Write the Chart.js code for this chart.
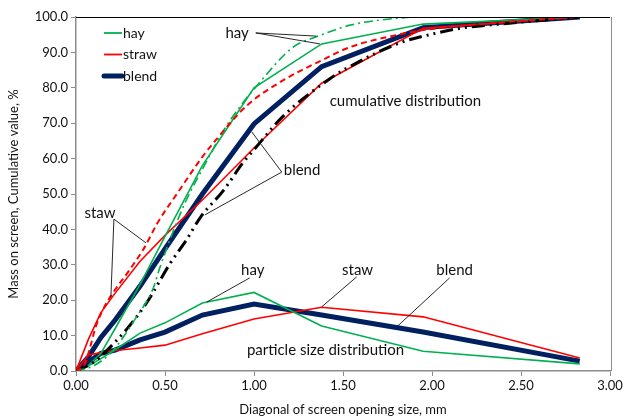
<!DOCTYPE html>
<html><head><meta charset="utf-8">
<script src="https://cdn.jsdelivr.net/npm/chart.js@4.4.1/dist/chart.umd.min.js"></script>
<style>html,body{margin:0;padding:0;background:#fff}#wrap{width:627px;height:418px}</style>
</head><body><div id="wrap"><canvas id="c" width="627" height="418"></canvas></div>
<script>
// Sieve sizes (diagonal of screen opening, mm)
const xSieve = [0, 0.07, 0.14, 0.22, 0.36, 0.5, 0.71, 1.0, 1.38, 1.95, 2.83];
// Cumulative distributions, %
const hayCum   = [0, 1.5, 5, 12, 24.5, 38, 58, 80, 92.4, 98, 100];
const strawCum = [0, 9, 16.5, 22, 31, 38.3, 48.3, 63, 81.3, 96.8, 100];
const blendCum = [0, 4, 9.5, 14.4, 24, 34.5, 50, 69.8, 86, 97, 100];
// Particle size distributions, % mass on screen
const hayPsd   = [0, 1.5, 3.5, 6, 10.7, 13.6, 19.2, 22.2, 12.7, 5.6, 2];
const strawPsd = [0, 4.5, 5.2, 5.8, 6.5, 7.3, 10.5, 14.7, 18, 15.3, 3.7];
const blendPsd = [0, 2.5, 5, 5.9, 8.8, 11, 15.8, 18.9, 15.8, 11, 2.8];
// Fitted (model) cumulative curves
const hayModelX = [0, 0.1, 0.21, 0.34, 0.43, 0.47, 0.55, 0.62, 0.71, 0.83, 0.92, 1.02, 1.22, 1.35, 1.54, 1.72, 1.95, 2.83];
const hayModelY = [0, 1.5, 5.9, 15.3, 22.9, 29, 40, 48.3, 57, 68, 74.6, 80.8, 91.5, 94.4, 97.7, 99.2, 100, 100];
const strawModelX = [0, 0.05, 0.08, 0.11, 0.15, 0.2, 0.3, 0.38, 0.46, 0.58, 0.71, 0.79, 0.96, 1.16, 1.39, 1.54, 1.8, 1.95, 2.4, 2.83];
const strawModelY = [0, 2, 6.8, 12.4, 17.2, 21.5, 28.5, 34.5, 42, 51, 60.5, 65.5, 75, 82, 88, 91.5, 94.9, 96.3, 98.5, 100];
const blendModelX = [0, 0.1, 0.22, 0.29, 0.4, 0.53, 0.62, 0.7, 0.83, 0.94, 0.99, 1.16, 1.43, 1.52, 1.82, 2.03, 2.17, 2.38, 2.83];
const blendModelY = [0, 2.5, 8.2, 12.1, 19.5, 30.5, 37, 43.5, 51.1, 59, 61.9, 71.8, 82.7, 85.5, 92.7, 95.5, 96.9, 98, 100];
// Legend entries and annotation labels
const legendLabels = ['hay', 'straw', 'blend'];
const annotations = [
  {text: 'hay', x: 0.905, y: 95.5, align: 'center', lines: [[1.01, 95.5, 1.35, 94.6], [1.01, 95.5, 1.37, 92.4]]},
  {text: 'cumulative distribution', x: 1.425, y: 76.3, align: 'left', lines: []},
  {text: 'blend', x: 1.167, y: 56.8, align: 'left', lines: [[1.156, 56.2, 0.988, 67.5], [1.156, 56.2, 0.724, 44.1]]},
  {text: 'staw', x: 0.135, y: 44.6, align: 'center', lines: [[0.213, 42.9, 0.393, 36.2], [0.213, 42.9, 0.196, 20.9]]},
  {text: 'hay', x: 0.993, y: 28.5, align: 'center', lines: [[0.976, 26.3, 0.735, 19.5]]},
  {text: 'staw', x: 1.582, y: 28.5, align: 'center', lines: [[1.577, 26.6, 1.38, 18.1]]},
  {text: 'blend', x: 2.127, y: 28.5, align: 'center', lines: [[2.099, 26.3, 1.807, 12.7]]},
  {text: 'particle size distribution', x: 0.96, y: 5.9, align: 'left', lines: []}
];

const GREEN = '#00B050', RED = '#FF0000', NAVY = '#002060';
const pts = (xs, ys) => xs.map((x, i) => ({x: x, y: ys[i]}));
const FONT = 'Lato, "Noto Sans", sans-serif';

function ds(data, color, width, dash, smooth) {
  return {data: data, borderColor: color, backgroundColor: color, borderWidth: width,
    borderDash: dash || [], showLine: true, pointRadius: 0, pointHoverRadius: 0,
    tension: 0, cubicInterpolationMode: smooth ? 'monotone' : 'default', fill: false};
}

const datasets = [
  ds(pts(strawModelX, strawModelY), RED, 2, [6, 4], true),
  ds(pts(hayModelX, hayModelY), GREEN, 1.6, [9, 4, 2, 4], true),
  ds(pts(blendModelX, blendModelY), '#000', 3, [13, 5, 2, 5, 2, 5], true),
  ds(pts(xSieve, hayCum), GREEN, 1.6),
  ds(pts(xSieve, strawCum), RED, 1.6),
  ds(pts(xSieve, hayPsd), GREEN, 1.6),
  ds(pts(xSieve, strawPsd), RED, 1.6),
  ds(pts(xSieve, blendCum), NAVY, 5),
  ds(pts(xSieve, blendPsd), NAVY, 5)
];

const overlay = {
  id: 'overlay',
  afterDraw(chart) {
    const ctx = chart.ctx, xs = chart.scales.x, ys = chart.scales.y, a = chart.chartArea;
    ctx.save();
    ctx.lineWidth = 1;
    ctx.strokeStyle = '#000';
    ctx.beginPath(); ctx.moveTo(a.left, a.top + 0.5); ctx.lineTo(a.right, a.top + 0.5); ctx.stroke();
    ctx.strokeStyle = '#8c8c8c';
    ctx.beginPath(); ctx.moveTo(a.right + 1.5, a.top); ctx.lineTo(a.right + 1.5, a.bottom); ctx.stroke();
    ctx.font = '15px ' + FONT;
    ctx.fillStyle = '#111';
    ctx.textBaseline = 'middle';
    ctx.strokeStyle = '#111';
    ctx.lineWidth = 0.9;
    annotations.forEach(an => {
      ctx.textAlign = an.align;
      ctx.fillText(an.text, xs.getPixelForValue(an.x), ys.getPixelForValue(an.y));
      an.lines.forEach(l => {
        ctx.beginPath();
        ctx.moveTo(xs.getPixelForValue(l[0]), ys.getPixelForValue(l[1]));
        ctx.lineTo(xs.getPixelForValue(l[2]), ys.getPixelForValue(l[3]));
        ctx.stroke();
      });
    });
    const colors = [GREEN, RED, NAVY], widths = [1.8, 1.8, 5];
    ctx.textAlign = 'left';
    ctx.font = '14px ' + FONT;
    legendLabels.forEach((lab, i) => {
      const y = a.top + 16 + i * 21.5;
      ctx.strokeStyle = colors[i]; ctx.lineWidth = widths[i];
      ctx.lineCap = i === 2 ? 'round' : 'butt';
      ctx.beginPath(); ctx.moveTo(a.left + 28, y); ctx.lineTo(a.left + 46, y); ctx.stroke();
      ctx.fillStyle = '#111';
      ctx.fillText(lab, a.left + 47, y);
    });
    ctx.restore();
  }
};

new Chart(document.getElementById('c'), {
  type: 'scatter',
  data: {datasets: datasets},
  options: {
    responsive: false, animation: false, devicePixelRatio: 1,
    layout: {padding: {top: 17, right: 17, left: 0, bottom: 0}},
    plugins: {legend: {display: false}, tooltip: {enabled: false}},
    scales: {
      x: {type: 'linear', min: 0, max: 3,
        afterFit: s => { s.height = 47; },
        ticks: {stepSize: 0.5, callback: v => v.toFixed(2), color: '#111', font: {family: FONT, size: 13}, padding: 2, maxRotation: 0},
        grid: {drawOnChartArea: false, drawTicks: true, tickLength: 5, color: '#8c8c8c'},
        border: {color: '#8c8c8c', width: 1.5},
        title: {display: true, text: 'Diagonal of screen opening size, mm', color: '#111', font: {family: FONT, size: 13}, padding: {top: 0, bottom: 0}}
      },
      y: {min: 0, max: 100,
        afterFit: s => { s.width = 76; },
        ticks: {stepSize: 10, callback: v => v.toFixed(1), color: '#111', font: {family: FONT, size: 13}, padding: 3},
        grid: {drawOnChartArea: false, drawTicks: true, tickLength: 5, color: '#8c8c8c'},
        border: {color: '#8c8c8c', width: 1.5},
        title: {display: true, text: 'Mass on screen, Cumulative value, %', color: '#111', font: {family: FONT, size: 13}, padding: {top: 6, bottom: 2}}
      }
    }
  },
  plugins: [overlay]
});
</script>
</body></html>
